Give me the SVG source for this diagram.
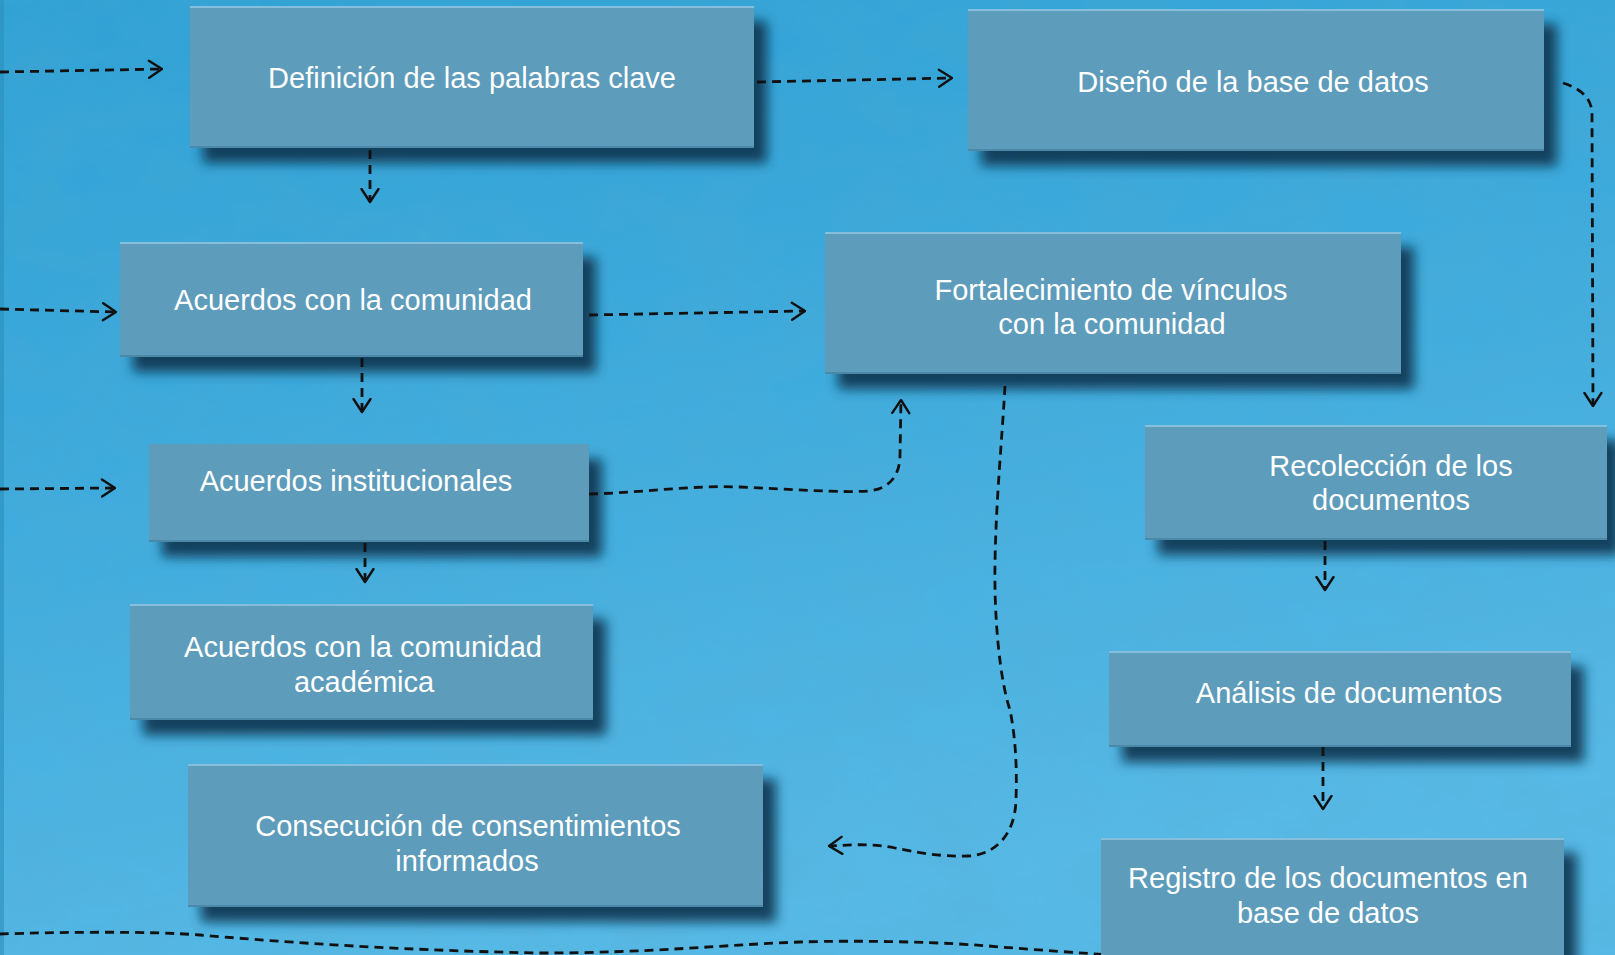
<svg xmlns="http://www.w3.org/2000/svg" width="1615" height="955" viewBox="0 0 1615 955">
  <defs>
    <linearGradient id="bg" x1="0" y1="0" x2="0.3" y2="1">
      <stop offset="0" stop-color="#2ea1d5"/>
      <stop offset="0.5" stop-color="#3eabdd"/>
      <stop offset="1" stop-color="#56b9e6"/>
    </linearGradient>
    <filter id="noise" x="0" y="0" width="100%" height="100%">
      <feTurbulence type="fractalNoise" baseFrequency="0.012 0.02" numOctaves="4" seed="3" result="n"/>
      <feColorMatrix in="n" type="matrix" values="0 0 0 0 0.1  0 0 0 0 0.4  0 0 0 0 0.6  0 0 0 0.35 -0.08"/>
    </filter>
    <filter id="shadow" x="-10%" y="-10%" width="130%" height="150%">
      <feDropShadow dx="13" dy="15" stdDeviation="6" flood-color="#0b3753" flood-opacity="0.92"/>
    </filter>
    <marker id="arr" viewBox="0 0 16 20" refX="14.5" refY="10" markerWidth="16" markerHeight="20" markerUnits="userSpaceOnUse" orient="auto">
      <path d="M1.5,1.5 L14.5,10 L1.5,18.5" fill="none" stroke="#111" stroke-width="2.4" stroke-linecap="round" stroke-linejoin="round"/>
    </marker>
    <style>
      .box { fill: #5d9cbb; filter: url(#shadow); }
      .hl { stroke: #86bfdb; stroke-width: 2; }
      .lo { stroke: #4c89a8; stroke-width: 2; }
      .t { font-family: "Liberation Sans", Arial, sans-serif; font-size: 29px; fill: #ffffff; text-anchor: middle; }
      .c { fill: none; stroke: #111; stroke-width: 2.8; stroke-dasharray: 9 6; }
      .ca { fill: none; stroke: #111; stroke-width: 2.8; stroke-dasharray: 9 6; marker-end: url(#arr); }
    </style>
  </defs>

  <rect width="1615" height="955" fill="url(#bg)"/>
  <rect width="1615" height="955" filter="url(#noise)"/>
  <rect x="0" y="0" width="4" height="955" fill="#2a8fbd" opacity="0.6"/>

  <g id="n-definicion">
    <rect class="box" x="190" y="6" width="564" height="142"/>
    <line class="hl" x1="190" y1="7" x2="754" y2="7"/>
    <line class="lo" x1="190" y1="147" x2="754" y2="147"/>
    <text class="t" x="472" y="88">Definición de las palabras clave</text>
  </g>

  <g id="n-diseno">
    <rect class="box" x="968" y="9" width="576" height="142"/>
    <line class="hl" x1="968" y1="10" x2="1544" y2="10"/>
    <line class="lo" x1="968" y1="150" x2="1544" y2="150"/>
    <text class="t" x="1253" y="92">Diseño de la base de datos</text>
  </g>

  <g id="n-acuerdos-comunidad">
    <rect class="box" x="120" y="242" width="463" height="115"/>
    <line class="hl" x1="120" y1="243" x2="583" y2="243"/>
    <line class="lo" x1="120" y1="356" x2="583" y2="356"/>
    <text class="t" x="353" y="310">Acuerdos con la comunidad</text>
  </g>

  <g id="n-fortalecimiento">
    <rect class="box" x="825" y="232" width="576" height="142"/>
    <line class="hl" x1="825" y1="233" x2="1401" y2="233"/>
    <line class="lo" x1="825" y1="373" x2="1401" y2="373"/>
    <text class="t" x="1111" y="300">Fortalecimiento de vínculos</text>
    <text class="t" x="1112" y="334">con la comunidad</text>
  </g>

  <g id="n-institucionales">
    <rect class="box" x="149" y="444" width="440" height="98"/>
    <line class="lo" x1="149" y1="541" x2="589" y2="541"/>
    <text class="t" x="356" y="491">Acuerdos institucionales</text>
  </g>

  <g id="n-recoleccion">
    <rect class="box" x="1145" y="425" width="462" height="115"/>
    <line class="hl" x1="1145" y1="426" x2="1607" y2="426"/>
    <line class="lo" x1="1145" y1="539" x2="1607" y2="539"/>
    <text class="t" x="1391" y="476">Recolección de los</text>
    <text class="t" x="1391" y="510">documentos</text>
  </g>

  <g id="n-academica">
    <rect class="box" x="130" y="604" width="463" height="116"/>
    <line class="hl" x1="130" y1="605" x2="593" y2="605"/>
    <line class="lo" x1="130" y1="719" x2="593" y2="719"/>
    <text class="t" x="363" y="657">Acuerdos con la comunidad</text>
    <text class="t" x="364" y="692">académica</text>
  </g>

  <g id="n-analisis">
    <rect class="box" x="1109" y="651" width="462" height="96"/>
    <line class="hl" x1="1109" y1="652" x2="1571" y2="652"/>
    <line class="lo" x1="1109" y1="746" x2="1571" y2="746"/>
    <text class="t" x="1349" y="703">Análisis de documentos</text>
  </g>

  <g id="n-consecucion">
    <rect class="box" x="188" y="764" width="575" height="143"/>
    <line class="hl" x1="188" y1="765" x2="763" y2="765"/>
    <line class="lo" x1="188" y1="906" x2="763" y2="906"/>
    <text class="t" x="468" y="836">Consecución de consentimientos</text>
    <text class="t" x="467" y="871">informados</text>
  </g>

  <g id="connectors">
    <path class="ca" d="M0,72 L162,69"/>
    <path class="ca" d="M757,82 L952,78"/>
    <path class="ca" d="M370,150 L370,202"/>
    <path class="ca" d="M1563,83 C1580,88 1592,98 1592,114 L1593,406"/>
    <path class="ca" d="M0,309 L116,312"/>
    <path class="ca" d="M589,315 L805,311"/>
    <path class="ca" d="M362,358 L362,412"/>
    <path class="ca" d="M0,489 L115,488"/>
    <path class="ca" d="M589,494 C640,493 690,485 740,487 C790,489 840,493 868,491 C890,489 900,475 900,455 L901,400"/>
    <path class="ca" d="M365,543 L365,582"/>
    <path class="ca" d="M1005,386 C1002,440 996,500 995,563 C994,620 1000,680 1010,710 C1016,740 1017,770 1016,800 C1015,835 995,855 968,856 C940,857 915,852 895,848 C870,843 850,845 829,846"/>
    <path class="ca" d="M1325,541 L1325,590"/>
    <path class="ca" d="M1323,747 L1323,809"/>
    <path class="c" d="M0,934 C60,932 150,931 200,935 C260,940 380,950 540,953 C650,953 720,945 800,942 C860,940 950,942 1000,947 C1040,950 1080,953 1110,955"/>
  </g>

  <g id="n-registro">
    <rect class="box" x="1101" y="838" width="463" height="130"/>
    <line class="hl" x1="1101" y1="839" x2="1564" y2="839"/>
    <text class="t" x="1328" y="888">Registro de los documentos en</text>
    <text class="t" x="1328" y="923">base de datos</text>
  </g>
</svg>
